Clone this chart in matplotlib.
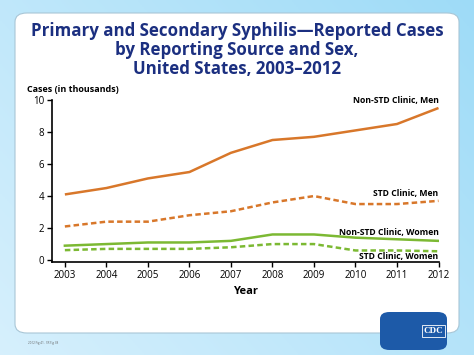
import numpy as np
import matplotlib.pyplot as plt
from matplotlib.patches import FancyBboxPatch

# === Data (cases in thousands) ===
years = [2003, 2004, 2005, 2006, 2007, 2008, 2009, 2010, 2011, 2012]
non_std_men = [4.1, 4.5, 5.1, 5.5, 6.7, 7.5, 7.7, 8.1, 8.5, 9.5]
std_men = [2.1, 2.4, 2.4, 2.8, 3.05, 3.6, 4.0, 3.5, 3.5, 3.7]
non_std_women = [0.9, 1.0, 1.1, 1.1, 1.2, 1.6, 1.6, 1.4, 1.3, 1.2]
std_women = [0.62, 0.7, 0.7, 0.7, 0.8, 1.0, 1.0, 0.6, 0.6, 0.55]
y_ticks = [0, 2, 4, 6, 8, 10]

title = "Primary and Secondary Syphilis\u2014Reported Cases\nby Reporting Source and Sex,\nUnited States, 2003\u20132012"

ORANGE = "#d8772a"
GREEN = "#7cb933"
NAVY = "#1b2f80"

plt.rcParams['font.family'] = ['Open Sans', 'DejaVu Sans']

fig = plt.figure(figsize=(4.74, 3.55), dpi=100)

# --- background gradient + white panel ---
bg = fig.add_axes([0, 0, 1, 1], zorder=0)
gx = np.linspace(0, 1, 200)
gy = np.linspace(0, 1, 150)
X, Y = np.meshgrid(gx, gy)
t = np.clip(0.6 * X + 0.4 * (1 - Y), 0, 1)
c0 = np.array([0.84, 0.94, 0.99])
c1 = np.array([0.62, 0.86, 0.97])
img = c0[None, None, :] * (1 - t[..., None]) + c1[None, None, :] * t[..., None]
bg.imshow(img, extent=[0, 1, 0, 1], aspect='auto', origin='upper')
panel = FancyBboxPatch((15 / 474, 1 - 333 / 355), 444 / 474, 320 / 355,
                       boxstyle="round,pad=0,rounding_size=0.025",
                       transform=bg.transAxes, facecolor="white",
                       edgecolor="#a9c6d6", linewidth=0.8)
bg.add_patch(panel)
bg.set_xlim(0, 1)
bg.set_ylim(0, 1)
bg.axis('off')

# CDC logo box
logo = FancyBboxPatch((380 / 474, 1 - 350 / 355), 67 / 474, 38 / 355,
                      boxstyle="round,pad=0,rounding_size=0.02",
                      transform=bg.transAxes, facecolor="#1d5aa8",
                      edgecolor="none")
bg.add_patch(logo)
bg.text(433 / 474, 1 - 331 / 355, "CDC", color="white", fontsize=6.5,
        fontweight='bold', ha='center', va='center', family='Liberation Serif',
        bbox=dict(facecolor="#1d5aa8", edgecolor="white", linewidth=0.6, pad=1.2))
bg.text(28 / 474, 1 - 343 / 355, "2012 Fig 41.  SR Fig 38", fontsize=2.2,
        color="#666666", ha='left', va='center')

fig.text(0.5, 1 - 50 / 355, title, ha='center', va='center', fontsize=12.2,
         fontweight='bold', color=NAVY, linespacing=1.1)

# --- main chart ---
ax = fig.add_axes([52 / 474, 1 - 262 / 355, (438.5 - 52) / 474, 162 / 355], zorder=2)
ax.patch.set_alpha(0)

ax.plot(years, non_std_men, color=ORANGE, lw=1.8, solid_capstyle='butt')
ax.plot(years, std_men, color=ORANGE, lw=1.8, ls=(0, (2.2, 1.3)))
ax.plot(years, non_std_women, color=GREEN, lw=1.8)
ax.plot(years, std_women, color=GREEN, lw=1.8, ls=(0, (2.2, 1.3)))

ax.set_xlim(2002.69, 2012)
ax.set_ylim(-0.12, 10)
ax.set_xticks(years)
ax.set_yticks(y_ticks)
ax.tick_params(labelsize=7, length=3.5, width=1, pad=2, colors='black')
ax.spines['top'].set_visible(False)
ax.spines['right'].set_visible(False)
ax.spines['left'].set_linewidth(1.2)
ax.spines['bottom'].set_linewidth(1.2)

ax.set_xlabel("Year", fontsize=8, fontweight='bold', labelpad=4)
fig.text(27 / 474, 1 - 89 / 355, "Cases (in thousands)", fontsize=6.5,
         fontweight='bold', ha='left', va='center')

lbl = dict(fontsize=6.2, fontweight='bold', ha='right', va='center')
ax.text(2012, non_std_men[-1] + 0.5, "Non-STD Clinic, Men", **lbl)
ax.text(2012, std_men[-1] + 0.45, "STD Clinic, Men", **lbl)
ax.text(2012, non_std_women[-1] + 0.55, "Non-STD Clinic, Women", **lbl)
ax.text(2012, std_women[-1] - 0.35, "STD Clinic, Women", **lbl)

fig.savefig("out.png", dpi=100)
